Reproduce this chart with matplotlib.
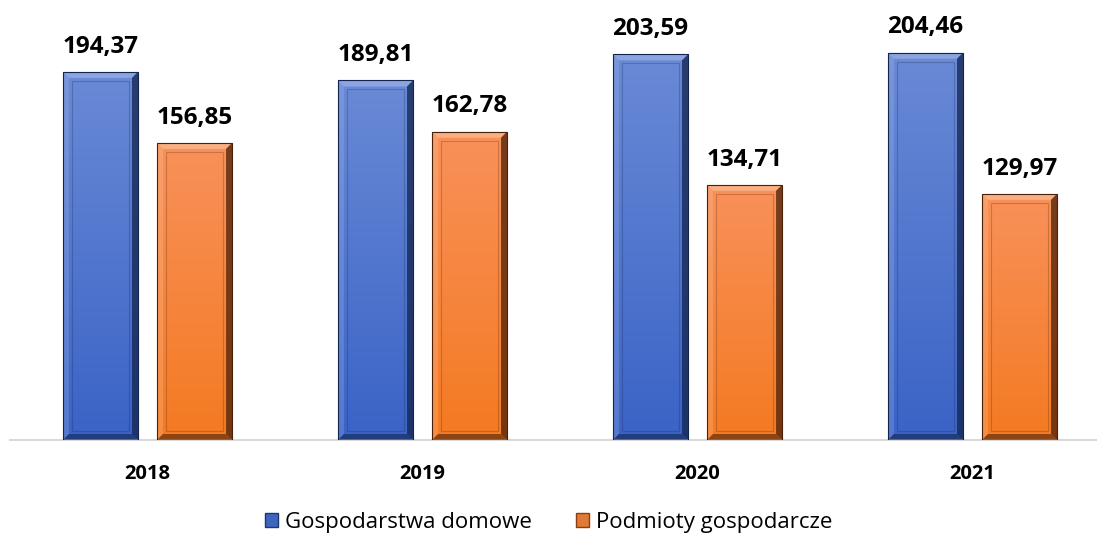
import numpy as np
import matplotlib.pyplot as plt
import matplotlib.patches as mpatches
from matplotlib.colors import LinearSegmentedColormap

years = ["2018", "2019", "2020", "2021"]
households = [194.37, 189.81, 203.59, 204.46]
businesses = [156.85, 162.78, 134.71, 129.97]
series_names = ["Gospodarstwa domowe", "Podmioty gospodarcze"]

plt.rcParams["font.family"] = ["Open Sans", "DejaVu Sans"]

fig = plt.figure(figsize=(10.97, 5.38), dpi=100)
ax = fig.add_axes([10 / 1097, 98 / 538, 1087 / 1097, 440 / 538])
ax.set_xlim(-0.5, -0.5 + 1087 / 275)
ax.set_ylim(0, 232.3)

x = np.arange(len(years))
width = 0.273
offset = 0.171

# bevel size in data units (about 6 px)
bx = 6 / 275
by = 6 / 1.894


def bevel_bars(xpos, values, top_col, bottom_col, dark, light):
    cmap = LinearSegmentedColormap.from_list("g", [bottom_col, top_col])
    bars = ax.bar(xpos, values, width, color="none", edgecolor=dark,
                  linewidth=0.8, zorder=5)
    for b in bars:
        x0, y0 = b.get_x(), b.get_y()
        w, h = b.get_width(), b.get_height()
        grad = np.linspace(0, 1, 256).reshape(-1, 1)
        im = ax.imshow(grad, cmap=cmap, origin="lower", aspect="auto",
                       extent=[x0, x0 + w, y0, y0 + h], zorder=2)
        im.set_clip_path(b)
        x1, y1 = x0 + w, y0 + h
        # top (light), left (light), right (dark), bottom (dark)
        ax.add_patch(mpatches.Polygon(
            [(x0, y1), (x1, y1), (x1 - bx, y1 - by), (x0 + bx, y1 - by)],
            facecolor=light, alpha=0.55, lw=0, zorder=3))
        ax.add_patch(mpatches.Polygon(
            [(x0, y0), (x0, y1), (x0 + bx, y1 - by), (x0 + bx, y0 + by)],
            facecolor=light, alpha=0.25, lw=0, zorder=3))
        ax.add_patch(mpatches.Polygon(
            [(x1, y0), (x1, y1), (x1 - bx, y1 - by), (x1 - bx, y0 + by)],
            facecolor=dark, alpha=0.75, lw=0, zorder=3))
        ax.add_patch(mpatches.Polygon(
            [(x0, y0), (x1, y0), (x1 - bx, y0 + by), (x0 + bx, y0 + by)],
            facecolor=dark, alpha=0.6, lw=0, zorder=3))
        # faint inner frame
        ax.add_patch(mpatches.Rectangle(
            (x0 + 1.5 * bx, y0 + 1.5 * by), w - 3 * bx, h - 3 * by,
            facecolor="none", edgecolor=dark, alpha=0.25, lw=0.8, zorder=3))


bevel_bars(x - offset, households, "#6a8ad6", "#3a63c6", "#13244d", "#a9bdea")
bevel_bars(x + offset, businesses, "#f8915a", "#f47a22", "#4a2008", "#fcc9a4")

for xi, v in zip(x - offset, households):
    ax.text(xi, v + 7, f"{v:.2f}".replace(".", ","), ha="center", va="bottom",
            fontsize=17.5, fontweight="bold")
for xi, v in zip(x + offset, businesses):
    ax.text(xi, v + 7, f"{v:.2f}".replace(".", ","), ha="center", va="bottom",
            fontsize=17.5, fontweight="bold")

for s in ["top", "right", "left"]:
    ax.spines[s].set_visible(False)
ax.spines["bottom"].set_color("#d9d9d9")
ax.spines["bottom"].set_linewidth(1.5)
ax.set_yticks([])
ax.set_xticks(x)
ax.set_xticklabels(years, fontsize=14.5, fontweight="bold")
ax.tick_params(axis="x", length=0, pad=17)

handles = [
    mpatches.Patch(facecolor="#3f66bf", edgecolor="#1f3770", label=series_names[0]),
    mpatches.Patch(facecolor="#e07a35", edgecolor="#8a4010", label=series_names[1]),
]
fig.legend(handles=handles, loc="lower center", bbox_to_anchor=(0.5, -0.028),
           ncol=2, frameon=False, fontsize=16, handlelength=0.6,
           handleheight=0.6, handletextpad=0.3, columnspacing=2.0)

fig.savefig("out.png", dpi=100)
